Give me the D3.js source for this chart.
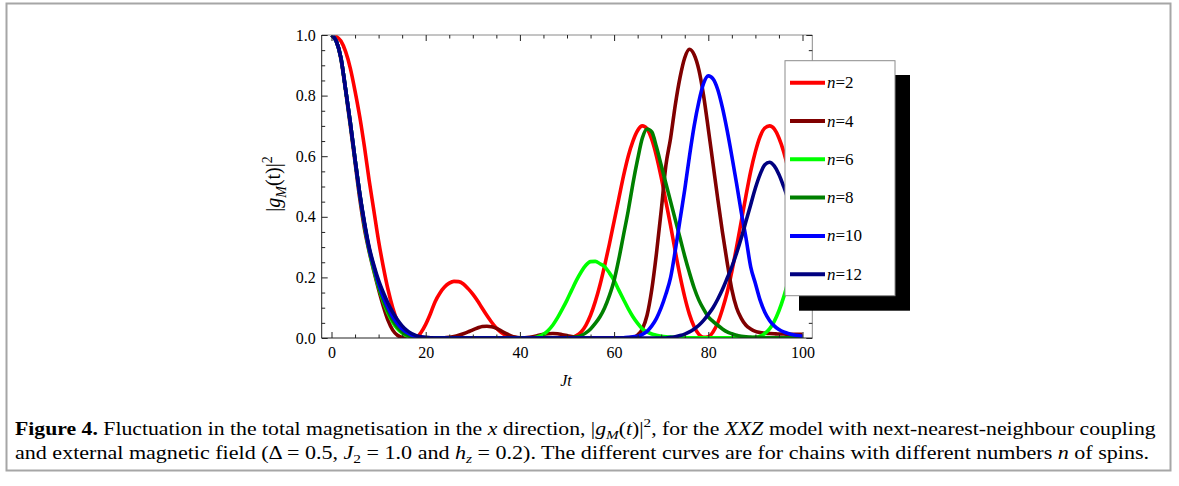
<!DOCTYPE html>
<html><head><meta charset="utf-8">
<script src="https://cdn.jsdelivr.net/npm/d3@7"></script>
<style>
body{margin:0;background:#fff}
svg{display:block}
text{font-family:"Liberation Serif","Times New Roman",serif;fill:#000}
</style>
</head><body>
<svg id="chart" width="1179" height="486"></svg>
<script>
// ---------------- data ----------------
const times = d3.range(0, 101); // Jt grid, step 1
const legendLabels = ["2", "4", "6", "8", "10", "12"];
const colors = ["#ff0000", "#800000", "#00ff00", "#008000", "#0000ff", "#000080"];
const xTicks = [0, 20, 40, 60, 80, 100];
const yTicks = [0, 0.2, 0.4, 0.6, 0.8, 1.0];

const n2 = [1,0.995,0.98,0.945,0.89,0.815,0.73,0.63,0.52,0.42,
  0.32,0.235,0.16,0.1,0.055,0.025,0.01,0.004,0.002,0.018,
  0.045,0.08,0.12,0.148,0.168,0.181,0.187,0.186,0.178,0.163,
  0.145,0.123,0.098,0.074,0.052,0.033,0.019,0.009,0.003,0.001,
  0,0,0,0,0,0,0,0,0,0,0,
  0.002,0.008,0.02,0.042,0.075,0.12,0.175,0.24,0.31,
  0.385,0.46,0.535,0.6,0.65,0.685,0.7,0.69,0.655,0.6,
  0.53,0.45,0.37,0.285,0.205,0.135,0.078,0.037,0.012,0.002,
  0.004,0.02,0.05,0.095,0.15,0.22,0.3,0.385,0.47,0.55,
  0.615,0.665,0.693,0.7,0.69,0.66,0.615,0.555,0.48,0.4,0.32];

const n4 = [1,0.98,0.92,0.815,0.7,0.58,0.46,0.36,0.285,0.22,
  0.16,0.105,0.058,0.026,0.009,0.002,0,0,0,0,
  0,0,0,0,0.001,0.002,0.005,0.009,0.014,0.02,
  0.027,0.033,0.038,0.039,0.037,0.032,0.024,0.015,0.008,0.003,
  0.001,0.001,0.002,0.005,0.009,0.012,0.014,0.015,0.014,0.011,
  0.008,0.005,0.003,0.001,0,0,0,0,0,0,
  0,0,0,0.001,0.002,0.01,0.03,0.075,0.16,0.28,
  0.42,0.57,0.66,0.77,0.86,0.925,0.953,0.935,0.885,0.8,
  0.69,0.575,0.46,0.35,0.25,0.16,0.1,0.065,0.042,0.03,
  0.022,0.018,0.016,0.015,0.014,0.013,0.013,0.012,0.012,0.012,0.012];

const n6 = [1,0.98,0.925,0.82,0.71,0.59,0.475,0.375,0.29,0.225,
  0.168,0.12,0.082,0.052,0.03,0.016,0.007,0.002,0.001,0,
  0,0,0,0,0,0,0,0,0,0,0,0,0,0,0,0,0,0,0,0,0,0,0,
  0.001,0.005,0.012,0.025,0.043,0.067,0.095,
  0.125,0.158,0.19,0.218,0.24,0.252,0.253,0.245,0.235,0.215,
  0.19,0.158,0.127,0.097,0.07,0.048,0.03,0.02,0.013,0.009,
  0.006,0.004,0.003,0.002,0.001,0.001,0.001,0.001,0.001,0.001,
  0.001,0.001,0.001,0.001,0.001,0.001,0.001,0.001,0.001,0.001,
  0.002,0.006,0.015,0.03,0.055,0.09,0.135,0.19,0.25,0.31,0.37];

const n8 = [1,0.98,0.925,0.82,0.71,0.59,0.475,0.375,0.292,0.23,
  0.172,0.125,0.088,0.058,0.036,0.02,0.01,0.004,0.001,0,
  0,0,0,0,0,0,0,0,0,0,0,0,0,0,0,0,0,0,0,0,0,0,0,0,0,0,0,0,0,0,0,
  0.001,0.003,0.008,0.017,0.03,0.048,0.07,0.1,0.14,
  0.19,0.26,0.34,0.42,0.51,0.59,0.66,0.69,0.68,0.63,
  0.57,0.51,0.45,0.39,0.33,0.27,0.215,0.165,0.125,0.095,
  0.07,0.055,0.042,0.03,0.02,0.014,0.009,0.006,0.004,0.003,
  0.002,0.002,0.001,0.001,0.001,0.001,0.001,0.001,0.001,0.001,0.001];

const n10 = [1,0.98,0.925,0.82,0.71,0.59,0.475,0.378,0.295,0.235,
  0.18,0.135,0.1,0.07,0.047,0.03,0.018,0.01,0.005,0.002,
  0.001,0,0,0,0,0,0,0,0,0,0,0,0,0,0,0,0,0,0,0,0,0,0,0,0,0,0,0,0,0,0,
  0,0,0,0,0,0,0,0,0,0,0,
  0.001,0.002,0.004,0.006,0.012,0.022,0.04,0.065,
  0.1,0.145,0.2,0.29,0.39,0.49,0.6,0.7,0.78,0.84,
  0.865,0.855,0.82,0.76,0.685,0.6,0.51,0.415,0.33,0.235,
  0.18,0.125,0.085,0.058,0.04,0.028,0.02,0.015,0.011,0.008,0.006];

const n12 = [1,0.98,0.925,0.82,0.71,0.59,0.478,0.382,0.3,0.24,
  0.19,0.15,0.115,0.085,0.06,0.04,0.025,0.015,0.008,0.004,
  0.002,0.001,
  0,0,0,0,0,0,0,0,0,0,0,0,0,0,0,0,0,0,0,0,0,0,0,0,0,
  0,0,0,0,0,0,0,0,0,0,0,0,0,0,0,0,0,0,0,0,0,0,0,0,0,
  0.002,0.004,0.008,0.013,0.02,0.03,0.042,0.058,
  0.078,0.1,0.128,0.16,0.197,0.235,0.28,0.33,0.385,0.44,
  0.495,0.54,0.572,0.58,0.568,0.54,0.5,0.455,0.405,0.35,0.3];

const seriesValues = [n2, n4, n6, n8, n10, n12];

// ---------------- layout ----------------
const svg = d3.select("#chart");
const F = {l: 321.7, r: 812.3, t: 35, b: 338};
const x = d3.scaleLinear().domain([0, 100]).range([331.5, 802.5]);
const y = d3.scaleLinear().domain([0, 1]).range([F.b, F.t]);

// outer figure border
svg.append("rect").attr("x", 6.5).attr("y", 3.5).attr("width", 1164).attr("height", 467)
  .attr("fill", "none").attr("stroke", "#a6a6a6").attr("stroke-width", 2);

// clip
svg.append("defs").append("clipPath").attr("id", "clip")
  .append("rect").attr("x", F.l).attr("y", F.t).attr("width", F.r - F.l).attr("height", F.b - F.t);

// curves
const line = d3.line().x((d, i) => x(times[i])).y(d => y(d)).curve(d3.curveMonotoneX);
const gLines = svg.append("g").attr("clip-path", "url(#clip)");
seriesValues.forEach((vals, k) => {
  gLines.append("path").datum(vals).attr("d", line)
    .attr("fill", "none").attr("stroke", colors[k]).attr("stroke-width", 3.6)
    .attr("stroke-linejoin", "round");
});

// frame
const frame = svg.append("g");
frame.append("line").attr("x1", F.l).attr("x2", F.r).attr("y1", F.t).attr("y2", F.t).attr("stroke", "#8a8a8a");
frame.append("line").attr("x1", F.r).attr("x2", F.r).attr("y1", F.t).attr("y2", F.b).attr("stroke", "#8a8a8a");
frame.append("line").attr("x1", F.l).attr("x2", F.r).attr("y1", F.b).attr("y2", F.b).attr("stroke", "#222");
frame.append("line").attr("x1", F.l).attr("x2", F.l).attr("y1", F.t).attr("y2", F.b).attr("stroke", "#222");

// axes
const xMinor = d3.range(5, 100, 5).filter(v => v % 20 !== 0);
const yMinor = d3.range(1, 20).map(v => v * 0.05).filter(v => Math.abs(v * 5 - Math.round(v * 5)) > 1e-6);

function styleAxis(g, withText) {
  g.select(".domain").remove();
  g.selectAll(".tick line").attr("stroke", "#222");
  g.selectAll(".tick text").attr("font-size", 16).attr("font-family", "Liberation Serif, serif").attr("fill", "#000");
  if (!withText) g.selectAll(".tick text").remove();
}
const gxb = svg.append("g").attr("transform", `translate(0,${F.b})`)
  .call(d3.axisBottom(x).tickValues(xTicks).tickSize(-6).tickPadding(9).tickFormat(d3.format("d")));
styleAxis(gxb, true);
const gxbm = svg.append("g").attr("transform", `translate(0,${F.b})`)
  .call(d3.axisBottom(x).tickValues(xMinor).tickSize(-3.5).tickFormat(""));
styleAxis(gxbm, false);
const gxt = svg.append("g").attr("transform", `translate(0,${F.t})`)
  .call(d3.axisTop(x).tickValues(xTicks).tickSize(-6).tickFormat(""));
styleAxis(gxt, false);
const gxtm = svg.append("g").attr("transform", `translate(0,${F.t})`)
  .call(d3.axisTop(x).tickValues(xMinor).tickSize(-3.5).tickFormat(""));
styleAxis(gxtm, false);

const gyl = svg.append("g").attr("transform", `translate(${F.l},0)`)
  .call(d3.axisLeft(y).tickValues(yTicks).tickSize(-6).tickPadding(6).tickFormat(d3.format(".1f")));
styleAxis(gyl, true);
const gylm = svg.append("g").attr("transform", `translate(${F.l},0)`)
  .call(d3.axisLeft(y).tickValues(yMinor).tickSize(-3.5).tickFormat(""));
styleAxis(gylm, false);
const gyr = svg.append("g").attr("transform", `translate(${F.r},0)`)
  .call(d3.axisRight(y).tickValues(yTicks).tickSize(-6).tickFormat(""));
styleAxis(gyr, false);
const gyrm = svg.append("g").attr("transform", `translate(${F.r},0)`)
  .call(d3.axisRight(y).tickValues(yMinor).tickSize(-3.5).tickFormat(""));
styleAxis(gyrm, false);

// rich text helper
function runs(sel, arr, fs, subK) {
  let shift = 0;
  arr.forEach(r => {
    const ts = sel.append("tspan").text(r.t);
    const target = r.s === "sub" ? fs * subK : r.s === "sup" ? -fs * 0.42 : 0;
    if (target !== shift) { ts.attr("dy", target - shift); shift = target; }
    if (r.s) ts.attr("font-size", fs * 0.7);
    if (r.i) ts.attr("font-style", "italic");
    if (r.b) ts.attr("font-weight", "bold");
  });
}

// axis labels
const yl = svg.append("text").attr("transform", "translate(280,184) rotate(-90)")
  .attr("text-anchor", "middle").attr("font-size", 20);
runs(yl, [{t: "|"}, {t: "g", i: 1}, {t: "M", i: 1, s: "sub"}, {t: "(t)|"}, {t: "2", s: "sup"}], 20, 0.3);

svg.append("text").attr("x", 566).attr("y", 386).attr("text-anchor", "middle")
  .attr("font-size", 16).attr("font-style", "italic").text("Jt");

// legend
const L = {x: 785, y: 60.7, w: 110, h: 235};
svg.append("rect").attr("x", L.x + 14).attr("y", L.y + 14.3).attr("width", L.w + 1).attr("height", L.h + 0.7).attr("fill", "#000");
svg.append("rect").attr("x", L.x).attr("y", L.y).attr("width", L.w).attr("height", L.h)
  .attr("fill", "#fff").attr("stroke", "#8c8c8c").attr("stroke-width", 1);
legendLabels.forEach((lab, k) => {
  const yy = 82.7 + k * 38.3;
  svg.append("line").attr("x1", 790).attr("x2", 825).attr("y1", yy).attr("y2", yy)
    .attr("stroke", colors[k]).attr("stroke-width", 4);
  const t = svg.append("text").attr("x", 827).attr("y", yy + 5.5).attr("font-size", 17);
  t.append("tspan").attr("font-style", "italic").text("n");
  t.append("tspan").text("=" + lab);
});

// caption
function captionLine(arr, yPos, targetW, fs) {
  const t = svg.append("text").attr("x", 0).attr("y", 0).attr("font-size", fs);
  runs(t, arr, fs, 0.2);
  const w = t.node().getComputedTextLength();
  t.attr("transform", `translate(15,${yPos}) scale(${targetW / w},1)`);
}
captionLine([
  {t: "Figure 4.", b: 1},
  {t: " Fluctuation in the total magnetisation in the "},
  {t: "x", i: 1},
  {t: " direction, |"},
  {t: "g", i: 1}, {t: "M", i: 1, s: "sub"},
  {t: "("}, {t: "t", i: 1}, {t: ")|"}, {t: "2", s: "sup"},
  {t: ", for the "}, {t: "XXZ", i: 1},
  {t: " model with next-nearest-neighbour coupling"}
], 435, 1141, 19);
captionLine([
  {t: "and external magnetic field (Δ = 0.5, "},
  {t: "J", i: 1}, {t: "2", s: "sub"},
  {t: " = 1.0 and "},
  {t: "h", i: 1}, {t: "z", i: 1, s: "sub"},
  {t: " = 0.2). The different curves are for chains with different numbers "},
  {t: "n", i: 1},
  {t: " of spins."}
], 459, 1135, 19);
</script>
</body></html>
